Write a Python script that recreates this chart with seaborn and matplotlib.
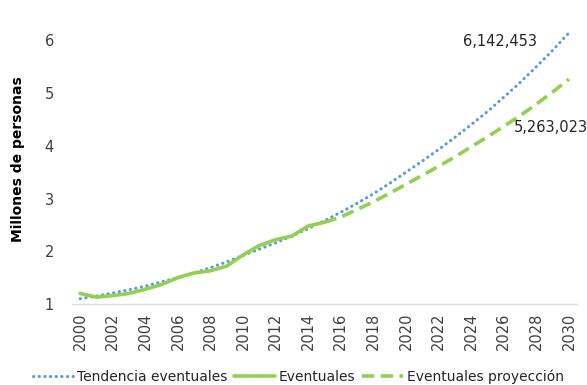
import pandas as pd
import seaborn as sns
import matplotlib.pyplot as plt

# values (millions of people)
years = list(range(2000, 2031))
tendencia = [1.10, 1.15, 1.21, 1.27, 1.34, 1.42, 1.50, 1.59, 1.69, 1.80,
             1.92, 2.04, 2.16, 2.29, 2.43, 2.58, 2.74, 2.91, 3.09, 3.29,
             3.50, 3.71, 3.93, 4.16, 4.40, 4.65, 4.92, 5.20, 5.50, 5.81,
             6.142453]
obs_years = list(range(2000, 2016))
eventuales = [1.20, 1.13, 1.16, 1.20, 1.28, 1.37, 1.50, 1.59, 1.63, 1.72,
              1.93, 2.11, 2.22, 2.29, 2.48, 2.55]
proj_years = list(range(2015, 2031))
proyeccion = [2.55, 2.65, 2.79, 2.94, 3.10, 3.27, 3.44, 3.61, 3.79, 3.98,
              4.17, 4.37, 4.57, 4.79, 5.02, 5.263023]

labels = ["Tendencia eventuales", "Eventuales", "Eventuales proyección"]
blue = "#5B9BD5"
green = "#92D050"

sns.set_style("white")
plt.rcParams['font.family'] = ['DejaVu Sans']

fig = plt.figure(figsize=(5.87, 3.85), dpi=100)
ax = fig.add_axes([0.1227, 0.2104, 0.8603, 0.7532])

df_t = pd.DataFrame({"anio": years, "valor": tendencia})
df_e = pd.DataFrame({"anio": obs_years, "valor": eventuales})
df_p = pd.DataFrame({"anio": proj_years, "valor": proyeccion})

sns.lineplot(data=df_t, x="anio", y="valor", ax=ax, color=blue, lw=2.2,
             label=labels[0], linestyle=(0, (0.1, 1.75)),
             dash_capstyle="round")
sns.lineplot(data=df_e, x="anio", y="valor", ax=ax, color=green, lw=2.6,
             label=labels[1], solid_capstyle="round")
sns.lineplot(data=df_p, x="anio", y="valor", ax=ax, color=green, lw=2.6,
             label=labels[2], linestyle=(0, (3.4, 1.8)))

ax.set_xlim(1999.5, 2030.5)
ax.set_ylim(1, 6.5)
ax.set_xticks(years[::2])
ax.set_xticklabels([str(y) for y in years[::2]], rotation=90)
ax.set_yticks([1, 2, 3, 4, 5, 6])
ax.tick_params(axis="both", length=0, labelsize=10.5, labelcolor="#404040")
ax.tick_params(axis="y", pad=13)
ax.tick_params(axis="x", pad=6)
ax.set_xlabel("")
ax.set_ylabel("Millones de personas", fontsize=10, fontweight="bold",
              color="black")
ax.yaxis.set_label_coords(-0.093, 0.5)
for side in ["top", "right", "left"]:
    ax.spines[side].set_visible(False)
ax.spines["bottom"].set_color("#D9D9D9")
ax.spines["bottom"].set_linewidth(1)

ax.annotate(f"{tendencia[-1]*1e6:,.0f}", xy=(years[-1], tendencia[-1]),
            xytext=(-23, -6.5), textcoords="offset points", ha="right",
            va="center", fontsize=10.5, color="#262626")
ax.annotate(f"{proyeccion[-1]*1e6:,.0f}", xy=(proj_years[-1], proyeccion[-1]),
            xytext=(-40, -35), textcoords="offset points", ha="left",
            va="center", fontsize=10.5, color="#262626")

handles, labs = ax.get_legend_handles_labels()
ax.get_legend().remove()
fig.legend(handles, labs, loc="lower center", bbox_to_anchor=(0.508, -0.03),
           ncol=3, frameon=False, fontsize=10, handlelength=2.9,
           columnspacing=0.5, handletextpad=0.3, labelcolor="#262626")

fig.savefig("out.png", dpi=100)
